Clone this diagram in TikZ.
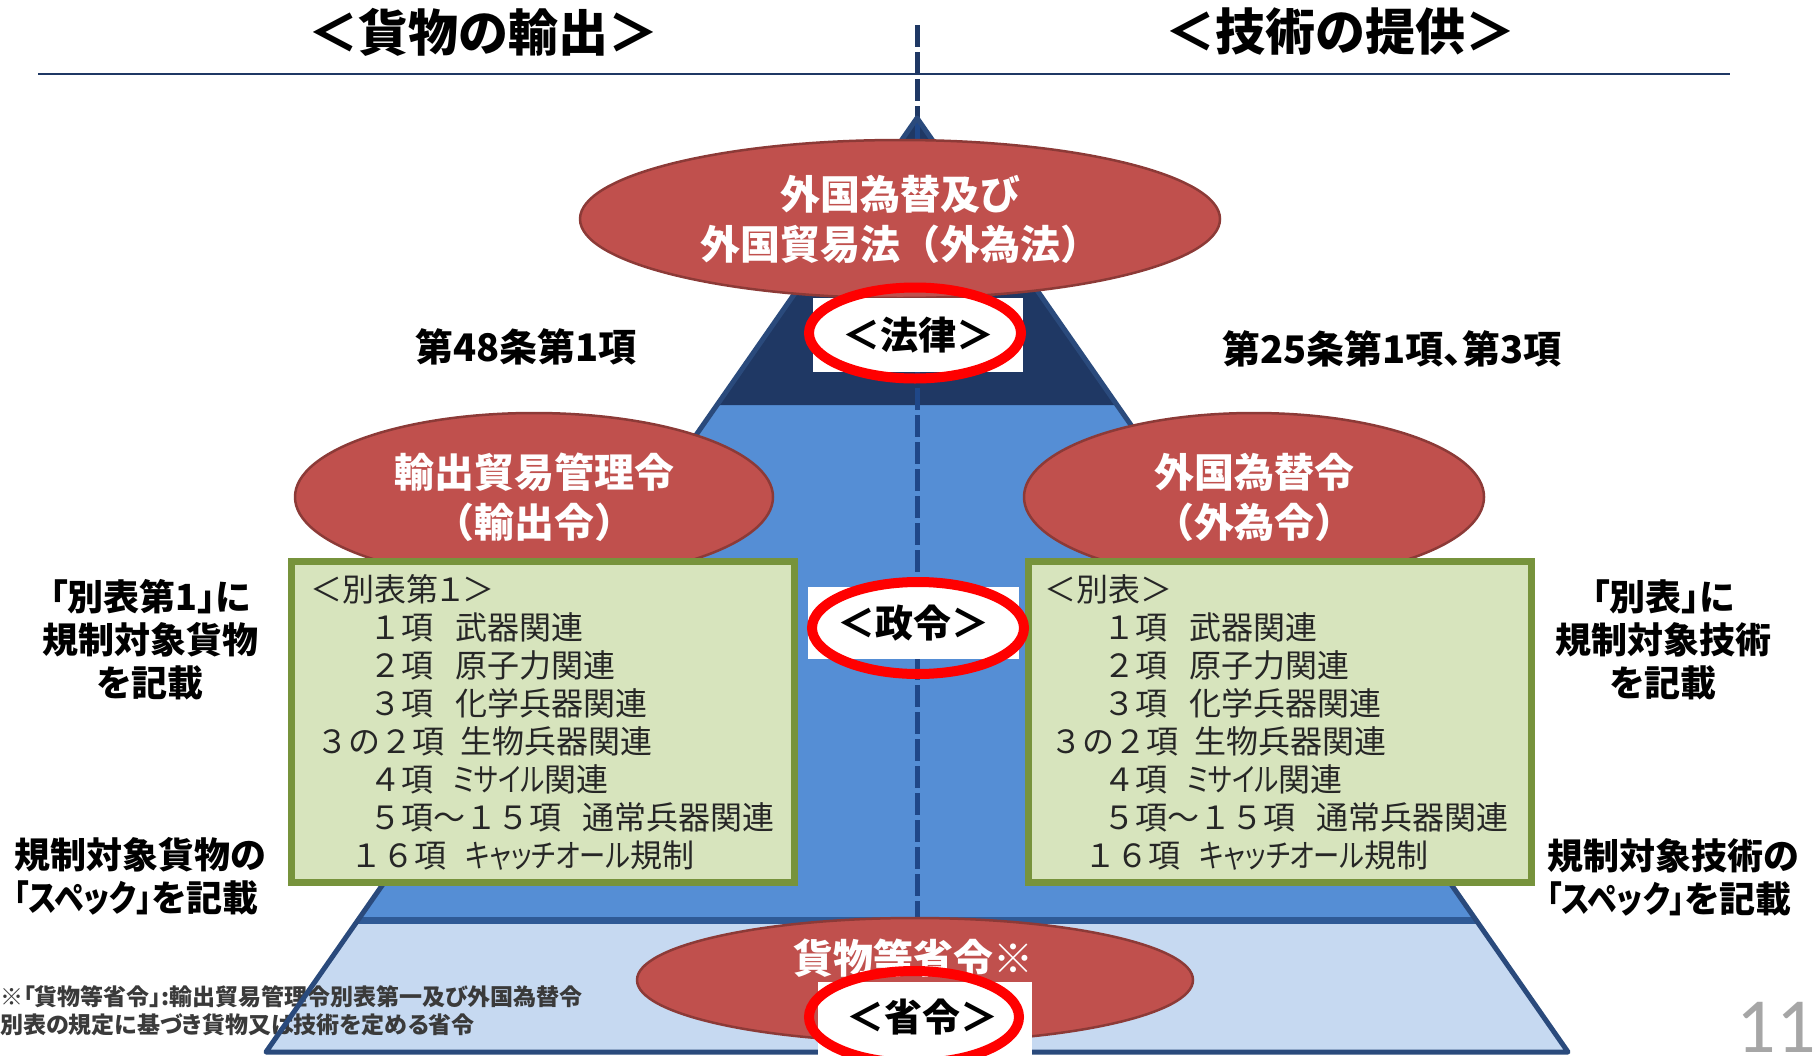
\documentclass[tikz,border=0pt]{standalone}
\usepackage{fontspec}
\setmainfont{Noto Sans CJK JP}
\newfontfamily\pjp{Noto Sans CJK JP}[RawFeature=+palt]
\newfontfamily\numfont{Carlito}
\usetikzlibrary{shapes.geometric}
\newcommand\myfs[2]{\fontsize{#1}{#2}\selectfont}
\newcommand\narrowkana[2]{\scalebox{#1}[1]{#2}}
\definecolor{navy}{HTML}{1F3864}
\definecolor{outlinecol}{HTML}{2A4A7C}
\definecolor{midblue}{HTML}{558ED5}
\definecolor{lightblue}{HTML}{C6D9F1}
\definecolor{bandcol}{HTML}{2F5A96}
\definecolor{dashcol}{HTML}{1F4788}
\definecolor{ellred}{HTML}{C0504D}
\definecolor{ellborder}{HTML}{8C3A37}
\definecolor{boxfill}{HTML}{D7E4BD}
\definecolor{boxborder}{HTML}{77933C}
\definecolor{ringred}{HTML}{FF0000}
\definecolor{boxtext}{HTML}{262626}
\definecolor{footcol}{HTML}{3A3A3A}
\definecolor{pagecol}{HTML}{A6A6A6}
\tikzset{
  titletxt/.style={font=\bfseries\myfs{50}{54}, inner sep=0pt},
  ellnode/.style={ellipse, draw=ellborder, line width=2.5pt, fill=ellred, inner sep=0pt,
    text=white, font=\bfseries\myfs{40}{50}, align=center},
  boxnode/.style={draw=boxborder, fill=boxfill, line width=7pt, inner sep=0pt,
    minimum width=503pt, minimum height=321pt},
  whitelab/.style={fill=white, inner sep=0pt, font=\bfseries\myfs{38}{44}},
  redring/.style={ellipse, draw=ringred, line width=10pt, inner sep=0pt},
  sidelab/.style={font=\pjp\bfseries\myfs{36}{43}, align=center, inner sep=0pt},
  boxtxt/.style={anchor=base west, inner sep=0pt, font=\pjp\myfs{32}{38}, text=boxtext},
  boxnum/.style={anchor=base west, inner sep=0pt, font=\myfs{32}{38}, text=boxtext},
  articletxt/.style={font=\pjp\bfseries\myfs{38}{40}, inner sep=0pt},
  foottxt/.style={anchor=base west, inner sep=0pt, font=\pjp\bfseries\myfs{23}{28}, text=footcol},
  centerdash/.style={line width=5pt, dash pattern=on 22pt off 5pt}
}
\begin{document}
\begin{tikzpicture}[x=1pt,y=-1pt]
\useasboundingbox (0,0) rectangle (1814,1055);
\clip (0,0) rectangle (1814,1055);
\fill[white] (0,0) rectangle (1814,1055);

% titles and top rule
\node[titletxt] (t1) at (483,32) {＜貨物の輸出＞};
\node[titletxt] (t2) at (1340,32) {＜技術の提供＞};
\coordinate (hl) at (38,74);
\coordinate (hr) at (1730,74);
\draw[navy, line width=2pt] (hl) -- (hr);

% pyramid
\coordinate (A) at (917,118);
\coordinate (L1) at (717,405);
\coordinate (R1) at (1117,405);
\coordinate (L2) at (358,920);
\coordinate (R2) at (1476,920);
\coordinate (L3) at (266,1052);
\coordinate (R3) at (1568,1052);
\coordinate (D0) at (917,25);
\coordinate (D1) at (917,920);
\fill[lightblue] (L2) -- (R2) -- (R3) -- (L3) -- cycle;
\fill[midblue] (L1) -- (R1) -- (R2) -- (L2) -- cycle;
\fill[navy] (A) -- (R1) -- (L1) -- cycle;
\draw[bandcol, line width=7pt] (L2) -- (R2);
\draw[navy, centerdash] (D0) -- (A);
\draw[dashcol, centerdash] (A) -- (D1);

% footnote
\node[foottxt] (fn1) at (0,1005) {※「貨物等省令」:輸出貿易管理令別表第一及び外国為替令};
\node[foottxt] (fn2) at (0,1033) {別表の規定に基づき貨物又は技術を定める省令};

\draw[outlinecol, line width=5pt, line join=round] (A) -- (R3) -- (L3) -- cycle;

% ellipses
\node[ellnode, minimum width=640pt, minimum height=158pt] (law) at (900,219)
  {外国為替及び\\外国貿易法（外為法）};
\node[ellnode, minimum width=478pt, minimum height=168pt] (eo) at (534,497)
  {輸出貿易管理令\\（輸出令）};
\node[ellnode, minimum width=460pt, minimum height=168pt] (fo) at (1254,497)
  {外国為替令\\（外為令）};
\node[ellnode, minimum width=556pt, minimum height=124pt] (mo) at (915,980) {};
\node[text=white, font=\bfseries\myfs{40}{44}, inner sep=0pt] (motxt) at (913,958) {貨物等省令※};

% boxes
\node[boxnode] (bl) at (543,722) {};
\node[boxnode] (br) at (1279.5,722) {};
\node[boxtxt] (gh) at (310,601) {＜別表第１＞};
\node[boxtxt] (th) at (1044,601) {＜別表＞};
\foreach \i/\xa/\ta/\xb/\tb in {1/369/１項/455/武器関連, 2/369/２項/455/原子力関連,
  3/369/３項/455/化学兵器関連, 4/316/３の２項/460/生物兵器関連,
  5/369/４項/453/\narrowkana{0.8}{ミサイル}関連,
  6/369/５項～１５項/582/通常兵器関連, 7/350/１６項/465/\narrowkana{0.82}{キャッチオール}規制}{
  \node[boxnum] (ga\i) at (\xa,601+38*\i) {\ta};
  \node[boxtxt] (gb\i) at (\xb,601+38*\i) {\tb};
  \node[boxnum] (ta\i) at (\xa+734,601+38*\i) {\ta};
  \node[boxtxt] (tb\i) at (\xb+734,601+38*\i) {\tb};
}

% level labels with red rings
\node[whitelab, minimum width=210pt, minimum height=74pt] (lvl1) at (918,335) {＜法律＞};
\node[redring, minimum width=212pt, minimum height=91pt] (ring1) at (915,333) {};
\node[whitelab, minimum width=211pt, minimum height=72pt] (lvl2) at (913.5,623) {＜政令＞};
\node[redring, minimum width=212pt, minimum height=92pt] (ring2) at (918,628) {};
\node[whitelab, minimum width=214pt, minimum height=80pt] (lvl3box) at (925,1022) {};
\node[font=\bfseries\myfs{38}{44}, inner sep=0pt] (lvl3) at (922,1017) {＜省令＞};
\node[redring, minimum width=210pt, minimum height=92pt] (ring3) at (914,1017) {};

% article labels
\node[articletxt] (a48) at (526,347) {第48条第1項};
\node[articletxt] (a25) at (1392,349) {第25条第1項、第3項};

% side labels
\node[sidelab] (sl1) at (150,640) {「別表第1」に\\規制対象貨物\\を記載};
\node[sidelab, align=left, anchor=west] (sl2) at (14,876)
  {規制対象貨物の\\\narrowkana{0.83}{「スペック」}を記載};
\node[sidelab] (sr1) at (1663,640) {「別表」に\\規制対象技術\\を記載};
\node[sidelab, align=left, anchor=west] (sr2) at (1547,877)
  {規制対象技術の\\\narrowkana{0.83}{「スペック」}を記載};

% page number
\node[anchor=base east, inner sep=0pt, text=pagecol, font=\numfont\myfs{78}{80}] (pg) at (1816,1052) {11};
\end{tikzpicture}
\end{document}
